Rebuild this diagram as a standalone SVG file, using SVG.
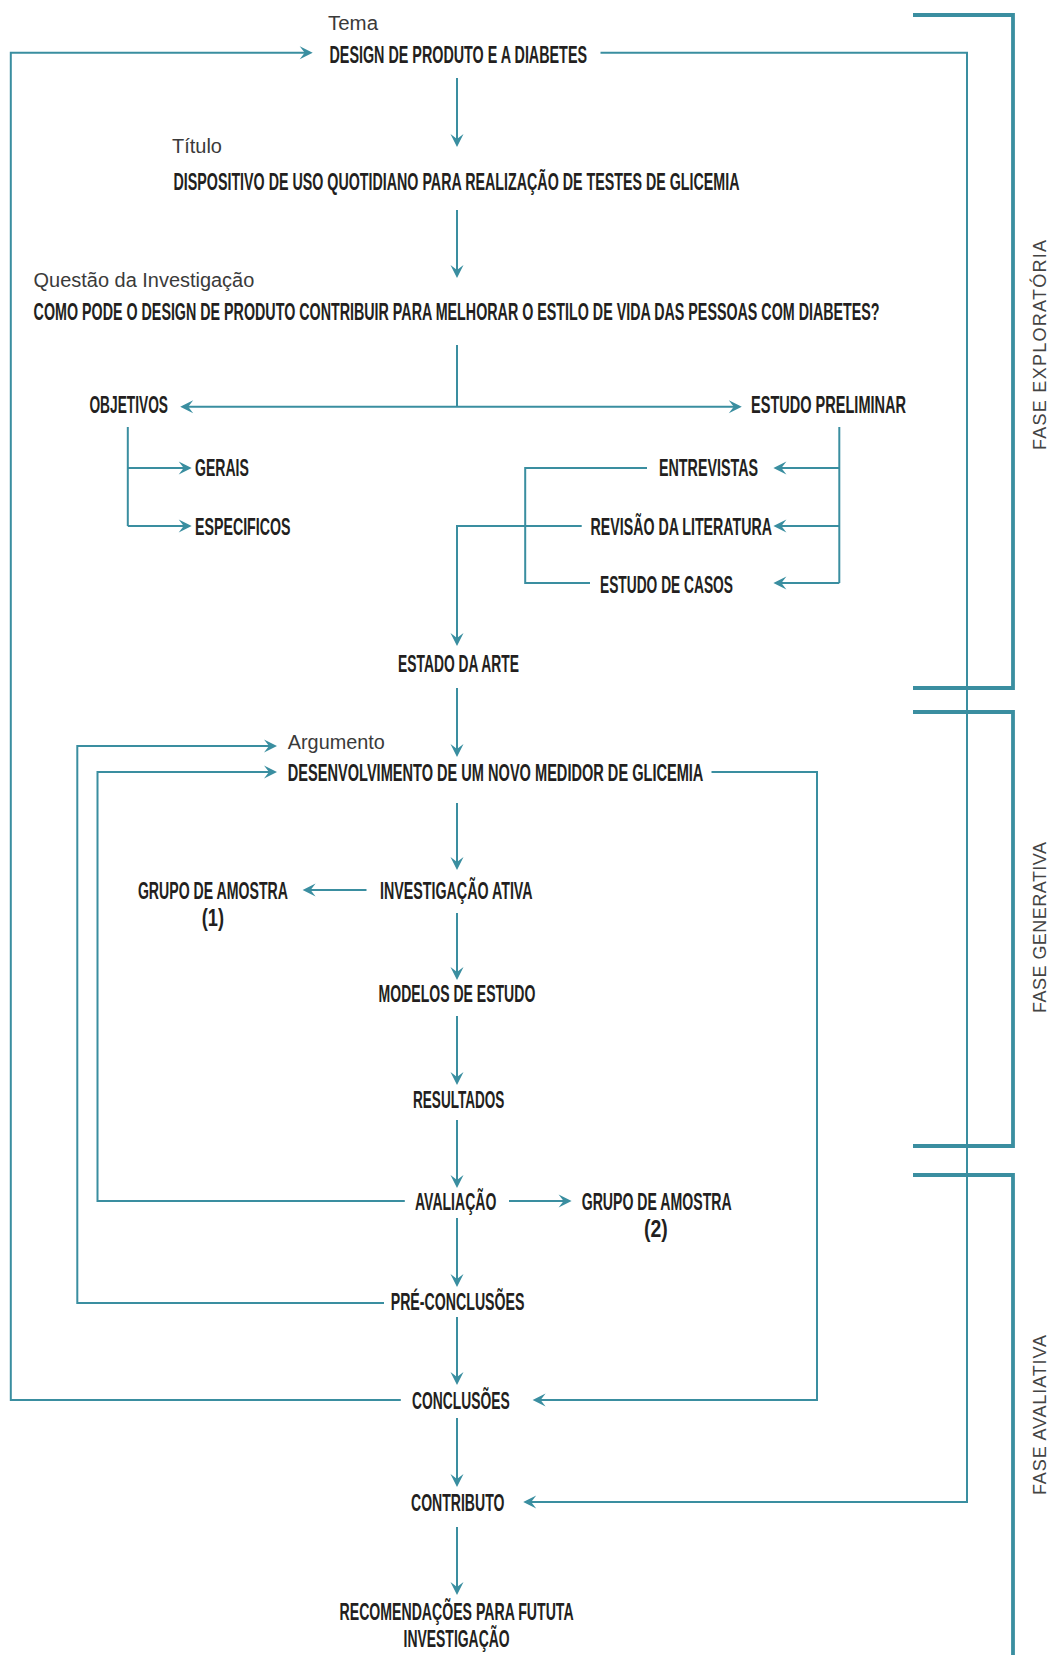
<svg xmlns="http://www.w3.org/2000/svg" width="1053" height="1655" viewBox="0 0 1053 1655">
<style>
.b{font-family:"Liberation Sans",Arial,sans-serif;font-weight:700;font-size:23px;fill:#231f20}
.l{font-family:"Liberation Sans",Arial,sans-serif;font-size:20px;fill:#3a3a3a}
.ph{font-family:"Liberation Sans",Arial,sans-serif;font-size:18px;fill:#444}
.c{fill:none;stroke:#3A8EA0;stroke-width:2}
.a{marker-end:url(#ah)}
.br{fill:none;stroke:#3A8EA0;stroke-width:3.8}
</style>
<defs>
<marker id="ah" markerUnits="userSpaceOnUse" orient="auto" viewBox="-11 -7 15 14" refX="0" refY="0" markerWidth="15" markerHeight="14">
<path d="M3,0 L-10,-6.5 L-5,0 L-10,6.5 Z" fill="#3A8EA0"/>
</marker>
</defs>
<rect width="1053" height="1655" fill="#fff"/>
<g id="connectors">
<path class="c a" d="M400.8 1400 H10.8 V52.7 H309.7"/>
<path class="c a" d="M600.5 52.7 H967 V1502 H526.2"/>
<path class="c a" d="M457 78 V144"/>
<path class="c a" d="M457 210 V275"/>
<path class="c" d="M457 345 V406.7"/>
<path class="c a" d="M457 406.7 H183.2"/>
<path class="c a" d="M457 406.7 H738.8"/>
<path class="c" d="M127.8 427 V526"/>
<path class="c a" d="M127.8 468 H188.7"/>
<path class="c a" d="M127.8 526 H188.7"/>
<path class="c" d="M839.3 427 V583"/>
<path class="c a" d="M839.3 468 H776.4"/>
<path class="c a" d="M839.3 526 H776.4"/>
<path class="c a" d="M839.3 583 H776.4"/>
<path class="c" d="M647 468 H525.2 V583 H590"/>
<path class="c a" d="M581.7 526 H457 V643"/>
<path class="c a" d="M457 688 V754"/>
<path class="c a" d="M384 1303 H77.3 V746 H274"/>
<path class="c a" d="M404.8 1201 H97.5 V772 H274"/>
<path class="c a" d="M711.5 772 H817 V1400 H535.6"/>
<path class="c a" d="M457 803 V867"/>
<path class="c a" d="M366.5 890 H305.6"/>
<path class="c a" d="M457 913 V977"/>
<path class="c a" d="M457 1016 V1082"/>
<path class="c a" d="M457 1120 V1185"/>
<path class="c a" d="M509 1201 H568.6"/>
<path class="c a" d="M457 1218 V1284"/>
<path class="c a" d="M457 1317 V1382"/>
<path class="c a" d="M457 1418 V1484"/>
<path class="c a" d="M457 1527 V1592"/>
</g>
<g id="phases">
<path class="br" d="M913 15 H1013 V688 H913"/>
<path class="br" d="M913 712 H1013 V1146 H913"/>
<path class="br" d="M913 1175 H1013 V1655"/>
<text class="ph" transform="translate(1046 450) rotate(-90)" textLength="210" lengthAdjust="spacing">FASE EXPLORATÓRIA</text>
<text class="ph" transform="translate(1046 1013) rotate(-90)" textLength="171" lengthAdjust="spacing">FASE GENERATIVA</text>
<text class="ph" transform="translate(1046 1495) rotate(-90)" textLength="160" lengthAdjust="spacing">FASE AVALIATIVA</text>
</g>
<g id="tema">
<text class="l" x="328" y="29.5" textLength="50" lengthAdjust="spacingAndGlyphs">Tema</text>
<text class="b" x="329.5" y="63" textLength="257.5" lengthAdjust="spacingAndGlyphs">DESIGN DE PRODUTO E A DIABETES</text>
</g>
<g id="titulo">
<text class="l" x="172" y="153" textLength="50" lengthAdjust="spacingAndGlyphs">Título</text>
<text class="b" transform="translate(173.5 190) scale(0.6 1)" x="0" y="0" textLength="943.3" lengthAdjust="spacingAndGlyphs">DISPOSITIVO DE USO QUOTIDIANO PARA REALIZAÇÃO DE TESTES DE GLICEMIA</text>
</g>
<g id="questao">
<text class="l" x="33.6" y="287" textLength="220.7" lengthAdjust="spacingAndGlyphs">Questão da Investigação</text>
<text class="b" transform="translate(33.6 320) scale(0.6 1)" x="0" y="0" textLength="1410" lengthAdjust="spacingAndGlyphs">COMO PODE O DESIGN DE PRODUTO CONTRIBUIR PARA MELHORAR O ESTILO DE VIDA DAS PESSOAS COM DIABETES?</text>
</g>
<g id="objetivos"><text class="b" x="89.4" y="413" textLength="78.6" lengthAdjust="spacingAndGlyphs">OBJETIVOS</text></g>
<g id="estudo-preliminar"><text class="b" x="751" y="413" textLength="155" lengthAdjust="spacingAndGlyphs">ESTUDO PRELIMINAR</text></g>
<g id="gerais"><text class="b" x="195" y="476" textLength="53.8" lengthAdjust="spacingAndGlyphs">GERAIS</text></g>
<g id="especificos"><text class="b" x="195" y="535" textLength="95.5" lengthAdjust="spacingAndGlyphs">ESPECIFICOS</text></g>
<g id="entrevistas"><text class="b" x="659" y="476" textLength="99" lengthAdjust="spacingAndGlyphs">ENTREVISTAS</text></g>
<g id="revisao"><text class="b" x="590.5" y="535" textLength="181.5" lengthAdjust="spacingAndGlyphs">REVISÃO DA LITERATURA</text></g>
<g id="estudo-casos"><text class="b" x="600" y="593" textLength="133" lengthAdjust="spacingAndGlyphs">ESTUDO DE CASOS</text></g>
<g id="estado-arte"><text class="b" x="398" y="672" textLength="121" lengthAdjust="spacingAndGlyphs">ESTADO DA ARTE</text></g>
<g id="argumento">
<text class="l" x="287.8" y="749" textLength="97" lengthAdjust="spacingAndGlyphs">Argumento</text>
<text class="b" x="287.8" y="781" textLength="415.6" lengthAdjust="spacingAndGlyphs">DESENVOLVIMENTO DE UM NOVO MEDIDOR DE GLICEMIA</text>
</g>
<g id="investigacao-ativa"><text class="b" x="380" y="899" textLength="152.6" lengthAdjust="spacingAndGlyphs">INVESTIGAÇÃO ATIVA</text></g>
<g id="grupo1">
<text class="b" x="137.9" y="899" textLength="150" lengthAdjust="spacingAndGlyphs">GRUPO DE AMOSTRA</text>
<text class="b" x="201.7" y="926" textLength="22.3" lengthAdjust="spacingAndGlyphs">(1)</text>
</g>
<g id="modelos"><text class="b" x="378.6" y="1002" textLength="156.7" lengthAdjust="spacingAndGlyphs">MODELOS DE ESTUDO</text></g>
<g id="resultados"><text class="b" x="413" y="1108" textLength="91.4" lengthAdjust="spacingAndGlyphs">RESULTADOS</text></g>
<g id="avaliacao"><text class="b" x="415" y="1210" textLength="81.3" lengthAdjust="spacingAndGlyphs">AVALIAÇÃO</text></g>
<g id="grupo2">
<text class="b" x="581.7" y="1210" textLength="150" lengthAdjust="spacingAndGlyphs">GRUPO DE AMOSTRA</text>
<text class="b" x="644" y="1237" textLength="23.8" lengthAdjust="spacingAndGlyphs">(2)</text>
</g>
<g id="pre-conclusoes"><text class="b" x="390.7" y="1310" textLength="133.8" lengthAdjust="spacingAndGlyphs">PRÉ-CONCLUSÕES</text></g>
<g id="conclusoes"><text class="b" x="412" y="1409" textLength="97.7" lengthAdjust="spacingAndGlyphs">CONCLUSÕES</text></g>
<g id="contributo"><text class="b" x="411" y="1511" textLength="93.4" lengthAdjust="spacingAndGlyphs">CONTRIBUTO</text></g>
<g id="recomendacoes">
<text class="b" x="339.6" y="1620" textLength="234" lengthAdjust="spacingAndGlyphs">RECOMENDAÇÕES PARA FUTUTA</text>
<text class="b" x="403.5" y="1647" textLength="106.2" lengthAdjust="spacingAndGlyphs">INVESTIGAÇÃO</text>
</g>
</svg>
